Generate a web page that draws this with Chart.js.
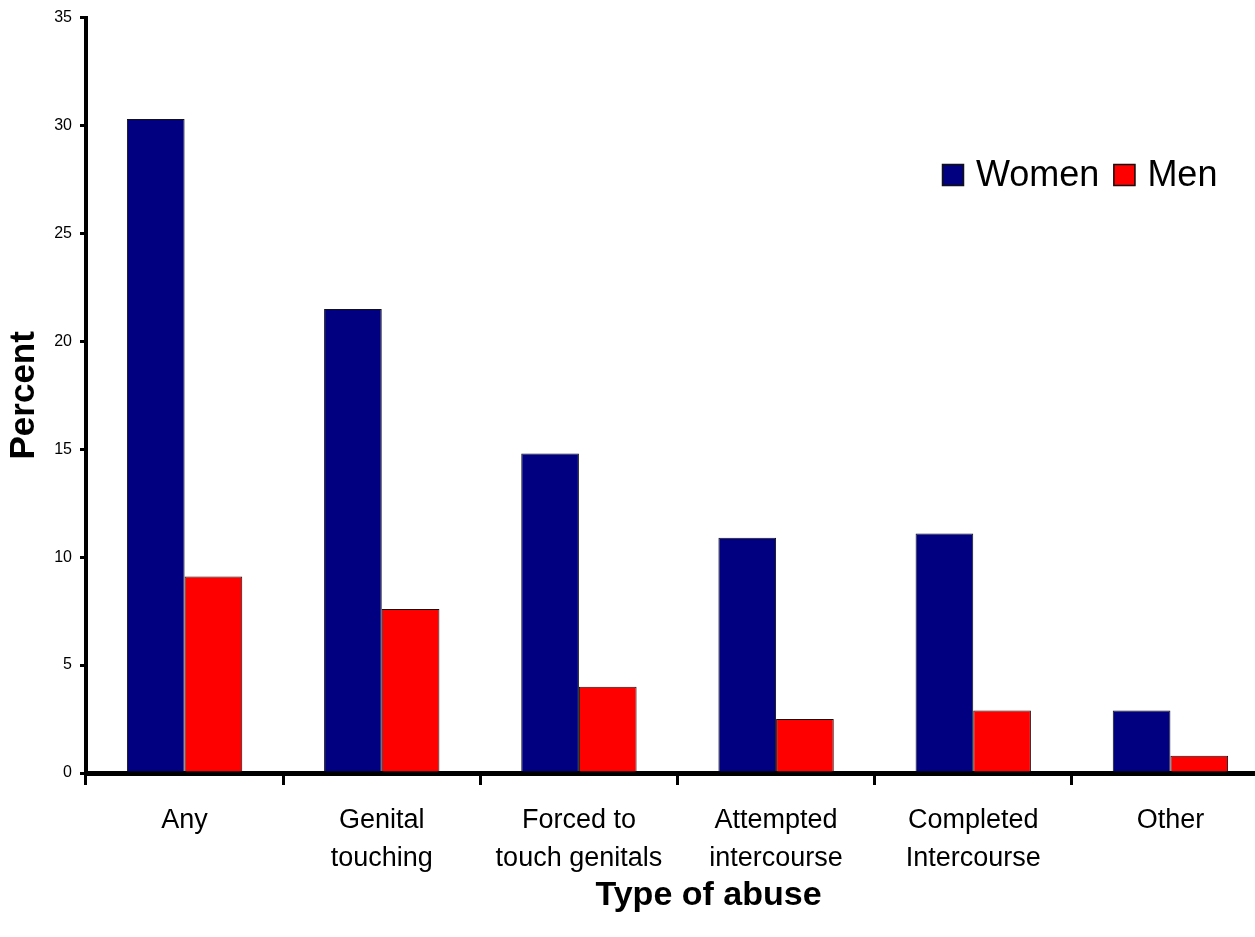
<!DOCTYPE html>
<html>
<head>
<meta charset="utf-8">
<title>Type of abuse</title>
<script src="https://cdn.jsdelivr.net/npm/chart.js@4/dist/chart.umd.min.js"></script>
<style>
  html, body { margin: 0; padding: 0; background: #fff; overflow: hidden; }
  #wrap { width: 1269px; height: 937px; }
</style>
</head>
<body>
<div id="wrap"><canvas id="chart" width="1269" height="937"></canvas></div>
<script>
// Categories (multi-line labels) and percentages per group
const categories = [
  ['Any'],
  ['Genital', 'touching'],
  ['Forced to', 'touch genitals'],
  ['Attempted', 'intercourse'],
  ['Completed', 'Intercourse'],
  ['Other']
];
const women = [30.3, 21.5, 14.8, 10.9, 11.1, 2.9];
const men = [9.1, 7.6, 4.0, 2.5, 2.9, 0.8];
const seriesNames = ['Women', 'Men'];
const yTicks = [0, 5, 10, 15, 20, 25, 30, 35];
const xTitle = 'Type of abuse';

const FONT = "'Liberation Sans', Arial, Helvetica, sans-serif";

// Legend drawn as a row inside the plot area, near its top-right corner
const insideLegend = {
  id: 'insideLegend',
  afterDraw(chart) {
    const ctx = chart.ctx;
    const box = 22;
    let x = 942;
    const y = 164;
    ctx.save();
    ctx.font = '36px ' + FONT;
    ctx.textBaseline = 'middle';
    ctx.textAlign = 'left';
    chart.data.datasets.forEach(ds => {
      ctx.fillStyle = ds.backgroundColor;
      ctx.fillRect(x, y, box, box);
      ctx.lineWidth = 1.5;
      ctx.strokeStyle = '#111';
      ctx.strokeRect(x + 0.5, y + 0.5, box - 1, box - 1);
      ctx.fillStyle = '#000';
      ctx.fillText(ds.label, x + box + 12, y + box / 2 + 1);
      x += box + 12 + ctx.measureText(ds.label).width + 14;
    });
    ctx.restore();
  }
};

// Axis title under the category labels, set a little right of the plot centre
const bottomTitle = {
  id: 'bottomTitle',
  afterDraw(chart) {
    const ctx = chart.ctx;
    const area = chart.chartArea;
    ctx.save();
    ctx.font = 'bold 34px ' + FONT;
    ctx.fillStyle = '#000';
    ctx.textAlign = 'center';
    ctx.textBaseline = 'alphabetic';
    ctx.fillText(xTitle, (area.left + area.right) / 2 + 31, 905);
    ctx.restore();
  }
};

new Chart(document.getElementById('chart'), {
  type: 'bar',
  data: {
    labels: categories,
    datasets: [
      { label: seriesNames[0], data: women, backgroundColor: '#000080', borderColor: '#111', borderWidth: 1 },
      { label: seriesNames[1], data: men, backgroundColor: '#ff0000', borderColor: '#111', borderWidth: 1 }
    ]
  },
  options: {
    responsive: false,
    devicePixelRatio: 1,
    animation: false,
    categoryPercentage: 0.585,
    barPercentage: 1.0,
    layout: { padding: { top: 15, right: 0, bottom: 0, left: 0 } },
    plugins: {
      legend: { display: false },
      tooltip: { enabled: false }
    },
    scales: {
      x: {
        z: 1,
        afterFit(scale) { scale.height = 164; },
        grid: {
          display: true,
          drawOnChartArea: false,
          drawTicks: true,
          tickLength: 12,
          lineWidth: 3,
          color: '#000',
          offset: true
        },
        border: { display: true, color: '#000', width: 5 },
        ticks: {
          color: '#000',
          padding: 16,
          maxRotation: 0,
          autoSkip: false,
          font: { family: FONT, size: 27, lineHeight: 1.42 }
        },
        title: { display: false }
      },
      y: {
        z: 1,
        min: 0,
        max: 35,
        afterFit(scale) { scale.width = 86; },
        afterBuildTicks(scale) { scale.ticks = yTicks.map(v => ({ value: v })); },
        grid: {
          display: true,
          drawOnChartArea: false,
          drawTicks: true,
          tickLength: 6,
          lineWidth: 3,
          color: '#000'
        },
        border: { display: true, color: '#000', width: 4 },
        ticks: {
          color: '#000',
          padding: 8,
          font: { family: FONT, size: 16 }
        },
        title: {
          display: true,
          text: 'Percent',
          color: '#000',
          font: { family: FONT, size: 35, weight: 'bold', lineHeight: 1.2 },
          padding: { top: 3, bottom: 0 }
        }
      }
    }
  },
  plugins: [insideLegend, bottomTitle]
});
</script>
</body>
</html>
